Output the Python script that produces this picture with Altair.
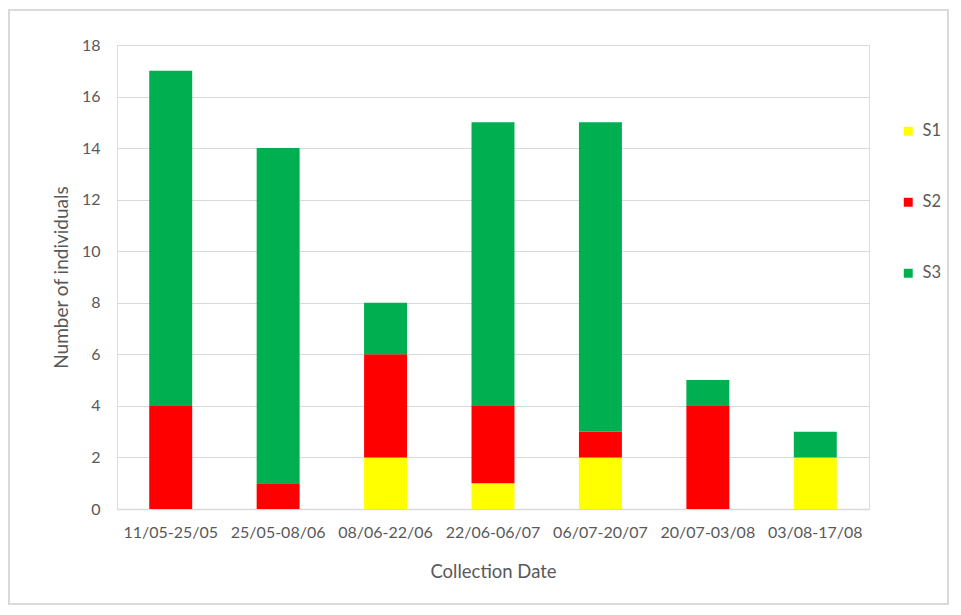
import altair as alt
import pandas as pd

dates = ["11/05-25/05", "25/05-08/06", "08/06-22/06", "22/06-06/07",
         "06/07-20/07", "20/07-03/08", "03/08-17/08"]
s1 = [0, 0, 2, 1, 2, 0, 2]
s2 = [4, 1, 4, 3, 1, 4, 0]
s3 = [13, 13, 2, 11, 12, 1, 1]
series = ["S1", "S2", "S3"]
colors = ["#FFFF00", "#FF0000", "#00B050"]

rows = []
for name, vals in zip(series, [s1, s2, s3]):
    for i, (d, v) in enumerate(zip(dates, vals)):
        rows.append({"date": d, "series": name, "value": v, "ord": series.index(name)})
df = pd.DataFrame(rows)

FONT = "Lato"
GRAY = "#595959"

bars = alt.Chart(df).mark_bar().encode(
    x=alt.X("date:N", sort=dates, title="Collection Date",
            scale=alt.Scale(paddingInner=0.6, paddingOuter=0.3),
            axis=alt.Axis(labelAngle=0, labelColor=GRAY, labelFontSize=16, labelFont=FONT,
                          labelPadding=15, ticks=False, domainColor="#d9d9d9", domainWidth=1.5,
                          titleColor=GRAY, titleFontSize=18.5, titleFont=FONT, titleFontWeight="normal",
                          titlePadding=22)),
    y=alt.Y("value:Q", stack="zero", title="Number of individuals",
            scale=alt.Scale(domain=[0, 18]),
            axis=alt.Axis(values=list(range(0, 19, 2)), labelColor=GRAY, labelFontSize=16,
                          labelFont=FONT, labelPadding=17, ticks=False, domain=False,
                          gridColor="#d9d9d9", gridWidth=1.2,
                          titleColor=GRAY, titleFontSize=19, titleFont=FONT,
                          titleFontWeight="normal", titlePadding=10)),
    color=alt.Color("series:N", scale=alt.Scale(domain=series, range=colors),
                    legend=alt.Legend(title=None, orient="none", legendX=783, legendY=78,
                                      symbolType="square", symbolSize=80, symbolStrokeWidth=0,
                                      rowPadding=54, labelFont=FONT, labelFontSize=16.5,
                                      labelColor=GRAY, labelOffset=6)),
    order=alt.Order("ord:Q", sort="ascending"),
)

border = alt.Chart(df).mark_rect(fill=None, stroke="#d9d9d9", strokeWidth=1.5).encode(
    x=alt.value(-108), x2=alt.value(831), y=alt.value(-35), y2=alt.value(559)
)

chart = alt.layer(border, bars).properties(
    width=752, height=464,
    autosize=alt.AutoSizeParams(type="none"),
    padding={"left": 109, "top": 37, "right": 84, "bottom": 99},
).configure_view(stroke=None).configure(background="white")

chart.save("out.html", embed_options={"renderer": "svg", "actions": False})
